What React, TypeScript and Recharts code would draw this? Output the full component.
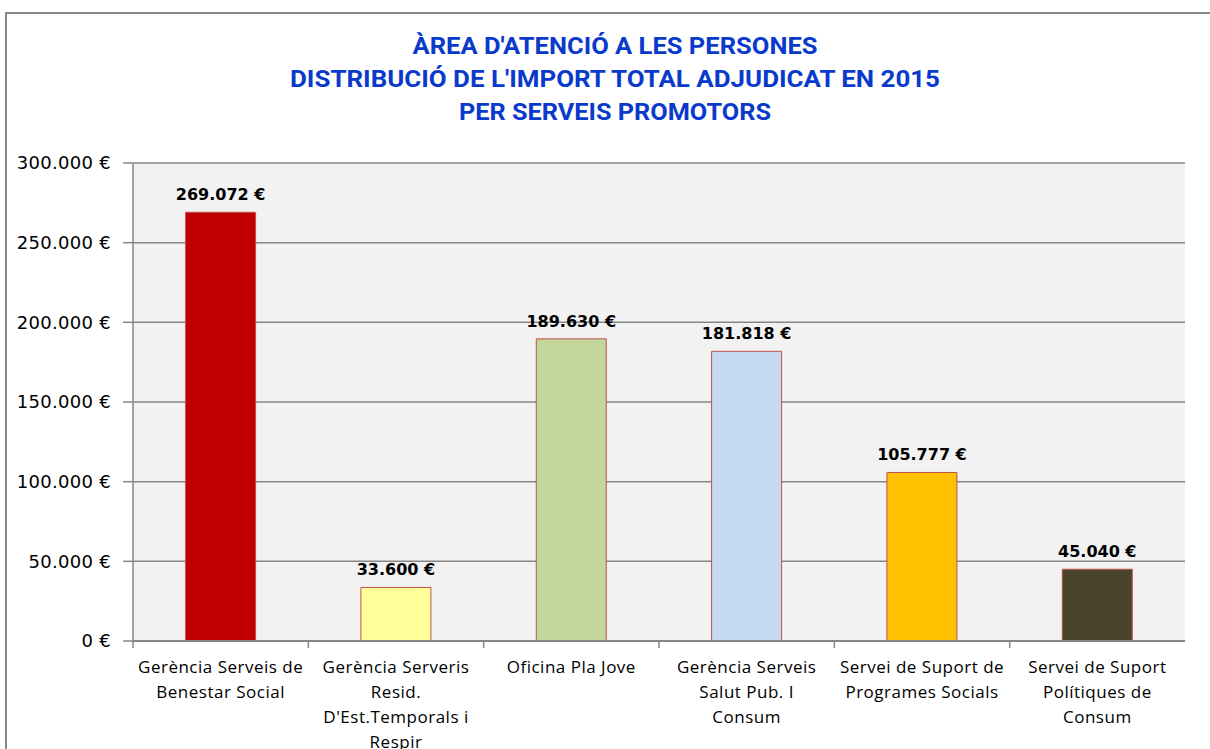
import { BarChart, Bar, XAxis, YAxis, CartesianGrid, Cell, LabelList } from "recharts";

const categories = [
  "Gerència Serveis de\nBenestar Social",
  "Gerència Serveris\nResid.\nD'Est.Temporals i\nRespir",
  "Oficina Pla Jove",
  "Gerència Serveis\nSalut Pub. I\nConsum",
  "Servei de Suport de\nProgrames Socials",
  "Servei de Suport\nPolítiques de\nConsum",
];
const imports = [269072, 33600, 189630, 181818, 105777, 45040];
const barColors = ["#c00000", "#ffff99", "#c4d79b", "#c5d9f1", "#ffc000", "#494429"];
const yTicks = [0, 50000, 100000, 150000, 200000, 250000, 300000];
const titleLines = [
  "ÀREA D'ATENCIÓ A LES PERSONES",
  "DISTRIBUCIÓ DE L'IMPORT TOTAL ADJUDICAT EN 2015",
  "PER SERVEIS PROMOTORS",
];

const data = categories.map((name, i) => ({ name, value: imports[i] }));

const euro = (v: number) => v.toLocaleString("de-DE") + " €";

const W = 1210;
const H = 749;
const PLOT_LEFT = 133;
const PLOT_RIGHT = 1185;
const BAND = (PLOT_RIGHT - PLOT_LEFT) / categories.length;

function CategoryTick(props: any) {
  const { x, y, payload } = props;
  const lines = String(payload.value).split("\n");
  const left = x - BAND / 2;
  return (
    <g>
      <line x1={left} x2={left} y1={y - 8} y2={y - 1} stroke="#868686" strokeWidth={1.5} />
      <text x={x} y={y + 24} textAnchor="middle" fontFamily="'Open Sans', sans-serif" fontSize={17}
        letterSpacing={0.5} fill="#000">
        {lines.map((l, i) => (
          <tspan key={i} x={x} dy={i === 0 ? 0 : 25}>{l}</tspan>
        ))}
      </text>
    </g>
  );
}

export default function App() {
  return (
    <div style={{ position: "fixed", left: 0, top: 0, width: W, height: H, background: "#fff", overflow: "hidden" }}>
      <div style={{ position: "absolute", left: 5, top: 12, right: -5, bottom: -5, borderTop: "2px solid #868686", borderLeft: "2px solid #868686" }} />
      <svg width={W} height={130} style={{ position: "absolute", left: 0, top: 0 }}>
        {titleLines.map((t, i) => (
          <text key={i} x={615} y={54 + i * 33} textAnchor="middle" fill="#0a3acc"
            fontFamily="'Liberation Sans Narrow', 'Roboto', sans-serif" fontWeight="bold" fontSize={23}
            textLength={[405, 650, 312][i]} lengthAdjust="spacingAndGlyphs">
            {t}
          </text>
        ))}
      </svg>
      <div style={{ position: "absolute", left: 0, top: 0 }}>
        <BarChart width={W} height={H} data={data} margin={{ top: 163, right: W - PLOT_RIGHT, left: 0, bottom: 0 }}
          barCategoryGap="30%">
          <CartesianGrid vertical={false} stroke="#868686" strokeWidth={1.5} fill="#f2f2f2" fillOpacity={1} />
          <YAxis width={PLOT_LEFT} domain={[0, 300000]} ticks={yTicks} interval={0} tickFormatter={euro}
            axisLine={{ stroke: "#868686", strokeWidth: 1.5 }} tickLine={{ stroke: "#868686", strokeWidth: 1.5 }}
            tickSize={10} tickMargin={12}
            tick={{ fill: "#000", fontSize: 18, fontFamily: "'DejaVu Sans', sans-serif", letterSpacing: 0.3 }} />
          <XAxis dataKey="name" height={H - 641} interval={0} tickLine={false}
            axisLine={{ stroke: "#868686", strokeWidth: 2 }} tick={<CategoryTick />} />
          <Bar dataKey="value" stroke="#c0504d" strokeWidth={1} isAnimationActive={false}>
            {data.map((d, i) => (
              <Cell key={i} fill={barColors[i]} />
            ))}
            <LabelList dataKey="value" position="top" offset={12} formatter={(v: any) => euro(Number(v))}
              fill="#000" fontSize={16} fontWeight="bold" fontFamily="'DejaVu Sans', sans-serif" />
          </Bar>
        </BarChart>
      </div>
    </div>
  );
}
